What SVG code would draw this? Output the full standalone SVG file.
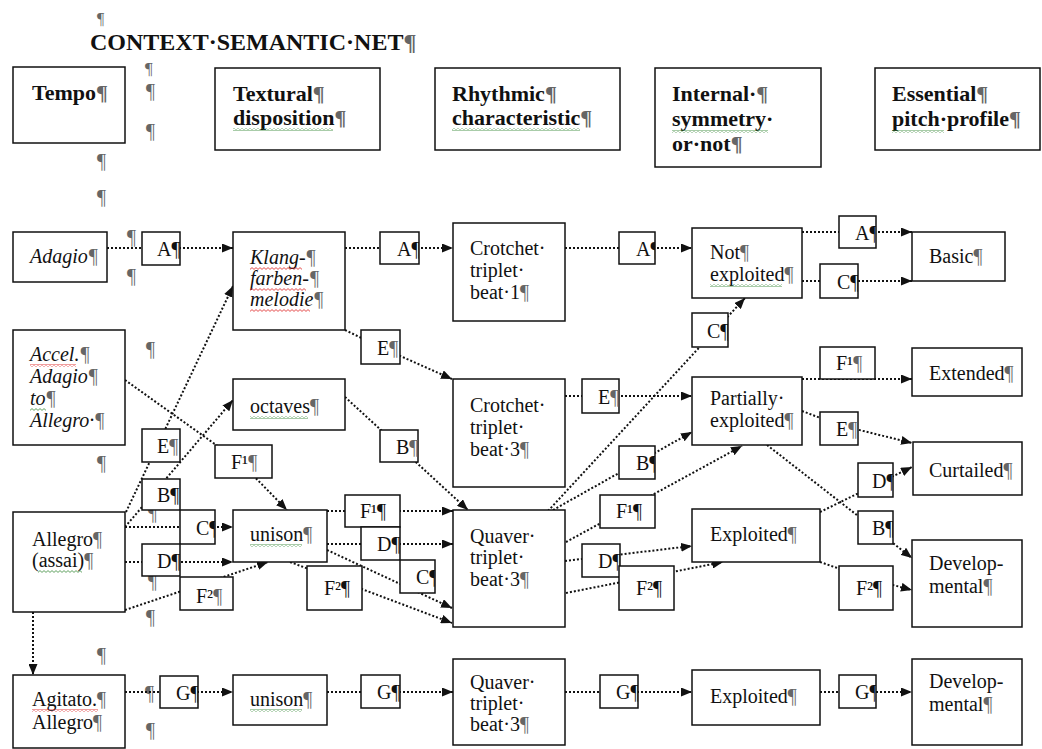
<svg xmlns="http://www.w3.org/2000/svg" width="1042" height="749" viewBox="0 0 1042 749">
<style>
.bg{fill:#fff}
.box{fill:#fff;stroke:#111;stroke-width:1.5}
.t{font-family:"Liberation Serif","Times New Roman",serif;font-size:20px;fill:#111}
.i{font-style:italic}
.h{font-weight:bold;font-size:22px}
.tt{font-family:"Liberation Serif","Times New Roman",serif;font-weight:bold;font-size:24px;fill:#111}
.p{fill:#666}
.c{fill:none;stroke:#111;stroke-width:2;stroke-dasharray:2 2;marker-end:url(#ah)}
.wr{fill:url(#wavyR)}
.wg{fill:url(#wavyG)}
</style>
<defs>
<marker id="ah" markerUnits="userSpaceOnUse" markerWidth="11" markerHeight="9" refX="11" refY="4.5" orient="auto">
<path d="M0,0 L11,4.5 L0,9 z" fill="#111"/>
</marker>
<pattern id="wavyR" width="4" height="3" patternUnits="userSpaceOnUse">
<path d="M0,0.6 L2,2.4 L4,0.6" fill="none" stroke="#d22" stroke-width="0.8"/>
</pattern>
<pattern id="wavyG" width="4" height="3" patternUnits="userSpaceOnUse">
<path d="M0,0.6 L2,2.4 L4,0.6" fill="none" stroke="#3a8a3a" stroke-width="0.8"/>
</pattern>
</defs>
<rect class="bg" x="0" y="0" width="1042" height="749"/>

<g id="title">
<text class="t p" x="97" y="24" style="font-size:16px">¶</text>
<text class="tt" x="90" y="50">CONTEXT·SEMANTIC·NET<tspan class="p">¶</tspan></text>
</g>

<g id="marks" class="t p">
<text x="145" y="74" style="font-size:17px">¶</text>
<text x="146" y="98">¶</text>
<text x="146" y="138">¶</text>
<text x="97" y="168">¶</text>
<text x="97" y="204">¶</text>
<text x="127" y="244">¶</text>
<text x="127" y="283">¶</text>
<text x="146" y="356">¶</text>
<text x="97" y="470">¶</text>
<text x="148" y="520">¶</text>
<text x="148" y="588">¶</text>
<text x="146" y="624">¶</text>
<text x="97" y="662">¶</text>
<text x="145" y="700">¶</text>
<text x="146" y="737">¶</text>
</g>

<g id="connectors">
<path class="c" d="M107,248 H233"/>
<path class="c" d="M345,248 H453"/>
<path class="c" d="M565,248 H692"/>
<path class="c" d="M802,232 H912"/>
<path class="c" d="M802,281 H912"/>
<path class="c" d="M345,330 L380,347 L452,379"/>
<path class="c" d="M565,396 H692"/>
<path class="c" d="M802,379 H912"/>
<path class="c" d="M802,411 L839,425 L912,443"/>
<path class="c" d="M548,511 L745,298"/>
<path class="c" d="M125,380 L240,462 L287,510"/>
<path class="c" d="M126,512 L233,286"/>
<path class="c" d="M125,527 L233,400"/>
<path class="c" d="M125,527 H233"/>
<path class="c" d="M125,562 H233"/>
<path class="c" d="M125,610 L268,562"/>
<path class="c" d="M345,397 L468,510"/>
<path class="c" d="M327,511 H453"/>
<path class="c" d="M327,544 H453"/>
<path class="c" d="M327,550 L452,608"/>
<path class="c" d="M290,562 L452,623"/>
<path class="c" d="M553,510 L692,432"/>
<path class="c" d="M566,542 L742,446"/>
<path class="c" d="M565,561 L692,546"/>
<path class="c" d="M566,593 L723,562"/>
<path class="c" d="M820,512 L912,467"/>
<path class="c" d="M767,445 L912,558"/>
<path class="c" d="M820,562 L866,578 L912,590"/>
<path class="c" d="M33,612 V675"/>
<path class="c" d="M125,692 H233"/>
<path class="c" d="M327,692 H453"/>
<path class="c" d="M565,692 H692"/>
<path class="c" d="M820,692 H912"/>
</g>

<!-- header nodes -->
<g id="n-tempo"><rect class="box" x="13" y="67" width="112" height="76"/>
<text class="t h" x="32" y="100">Tempo<tspan class="p">¶</tspan></text></g>
<g id="n-textural"><rect class="box" x="215" y="68" width="165" height="82"/>
<text class="t h" x="233" y="101">Textural<tspan class="p">¶</tspan></text>
<text class="t h" x="233" y="125">disposition<tspan class="p">¶</tspan></text>
<rect class="wg" x="233" y="128" width="100" height="3"/></g>
<g id="n-rhythmic"><rect class="box" x="435" y="68" width="185" height="82"/>
<text class="t h" x="452" y="101">Rhythmic<tspan class="p">¶</tspan></text>
<text class="t h" x="452" y="125">characteristic<tspan class="p">¶</tspan></text>
<rect class="wg" x="452" y="128" width="128" height="3"/></g>
<g id="n-internal"><rect class="box" x="655" y="68" width="166" height="99"/>
<text class="t h" x="672" y="101">Internal·<tspan class="p">¶</tspan></text>
<text class="t h" x="672" y="126">symmetry·</text>
<text class="t h" x="672" y="151">or·not<tspan class="p">¶</tspan></text>
<rect class="wg" x="672" y="130" width="96" height="3"/></g>
<g id="n-essential"><rect class="box" x="875" y="68" width="165" height="82"/>
<text class="t h" x="892" y="101">Essential<tspan class="p">¶</tspan></text>
<text class="t h" x="892" y="126">pitch·profile<tspan class="p">¶</tspan></text>
<rect class="wg" x="892" y="130" width="52" height="3"/></g>

<!-- tempo column -->
<g id="n-adagio"><rect class="box" x="13" y="232" width="94" height="50"/>
<text class="t i" x="30" y="263">Adagio<tspan class="p">¶</tspan></text></g>
<g id="n-accel"><rect class="box" x="13" y="330" width="112" height="115"/>
<text class="t i" x="30" y="361">Accel.<tspan class="p">¶</tspan></text>
<text class="t i" x="30" y="383">Adagio<tspan class="p">¶</tspan></text>
<text class="t i" x="30" y="405">to<tspan class="p">¶</tspan></text>
<text class="t i" x="30" y="427">Allegro·<tspan class="p">¶</tspan></text>
<rect class="wr" x="30" y="364" width="46" height="3"/>
<rect class="wg" x="30" y="408" width="16" height="3"/></g>
<g id="n-allegro"><rect class="box" x="13" y="512" width="112" height="100"/>
<text class="t" x="32" y="546">Allegro<tspan class="p">¶</tspan></text>
<text class="t" x="32" y="567">(assai)<tspan class="p">¶</tspan></text>
<rect class="wg" x="38" y="570" width="44" height="3"/></g>
<g id="n-agitato"><rect class="box" x="13" y="675" width="112" height="73"/>
<text class="t" x="32" y="706">Agitato.<tspan class="p">¶</tspan></text>
<text class="t" x="32" y="729">Allegro<tspan class="p">¶</tspan></text>
<rect class="wr" x="32" y="709" width="66" height="3"/></g>

<!-- textural column -->
<g id="n-klang"><rect class="box" x="233" y="232" width="112" height="98"/>
<text class="t i" x="250" y="264">Klang-<tspan class="p">¶</tspan></text>
<text class="t i" x="250" y="285">farben-<tspan class="p">¶</tspan></text>
<text class="t i" x="250" y="306">melodie<tspan class="p">¶</tspan></text>
<rect class="wr" x="250" y="267" width="52" height="3"/>
<rect class="wr" x="250" y="288" width="56" height="3"/>
<rect class="wr" x="250" y="309" width="60" height="3"/></g>
<g id="n-octaves"><rect class="box" x="233" y="379" width="112" height="51"/>
<text class="t" x="250" y="413">octaves<tspan class="p">¶</tspan></text>
<rect class="wg" x="250" y="416" width="58" height="3"/></g>
<g id="n-unison1"><rect class="box" x="233" y="510" width="94" height="52"/>
<text class="t" x="250" y="541">unison<tspan class="p">¶</tspan></text>
<rect class="wg" x="250" y="544" width="52" height="3"/></g>
<g id="n-unison2"><rect class="box" x="233" y="675" width="94" height="50"/>
<text class="t" x="250" y="706">unison<tspan class="p">¶</tspan></text>
<rect class="wg" x="250" y="709" width="52" height="3"/></g>

<!-- rhythmic column -->
<g id="n-crotchet1"><rect class="box" x="453" y="223" width="112" height="98"/>
<text class="t" x="470" y="255">Crotchet·</text>
<text class="t" x="470" y="277">triplet·</text>
<text class="t" x="470" y="299">beat·1<tspan class="p">¶</tspan></text></g>
<g id="n-crotchet3"><rect class="box" x="453" y="379" width="112" height="108"/>
<text class="t" x="470" y="412">Crotchet·</text>
<text class="t" x="470" y="434">triplet·</text>
<text class="t" x="470" y="456">beat·3<tspan class="p">¶</tspan></text></g>
<g id="n-quaver1"><rect class="box" x="453" y="510" width="112" height="117"/>
<text class="t" x="470" y="543">Quaver·</text>
<text class="t" x="470" y="564">triplet·</text>
<text class="t" x="470" y="586">beat·3<tspan class="p">¶</tspan></text></g>
<g id="n-quaver2"><rect class="box" x="453" y="659" width="112" height="86"/>
<text class="t" x="470" y="689">Quaver·</text>
<text class="t" x="470" y="710">triplet·</text>
<text class="t" x="470" y="731">beat·3<tspan class="p">¶</tspan></text></g>

<!-- symmetry column -->
<g id="n-notexploited"><rect class="box" x="692" y="228" width="110" height="70"/>
<text class="t" x="710" y="259">Not<tspan class="p">¶</tspan></text>
<text class="t" x="710" y="281">exploited<tspan class="p">¶</tspan></text>
<rect class="wg" x="710" y="284" width="72" height="3"/></g>
<g id="n-partially"><rect class="box" x="692" y="377" width="110" height="68"/>
<text class="t" x="710" y="405">Partially·</text>
<text class="t" x="710" y="427">exploited<tspan class="p">¶</tspan></text></g>
<g id="n-exploited1"><rect class="box" x="692" y="509" width="128" height="53"/>
<text class="t" x="710" y="541">Exploited<tspan class="p">¶</tspan></text></g>
<g id="n-exploited2"><rect class="box" x="692" y="670" width="128" height="55"/>
<text class="t" x="710" y="703">Exploited<tspan class="p">¶</tspan></text></g>

<!-- pitch profile column -->
<g id="n-basic"><rect class="box" x="912" y="232" width="93" height="49"/>
<text class="t" x="929" y="263">Basic<tspan class="p">¶</tspan></text></g>
<g id="n-extended"><rect class="box" x="912" y="348" width="110" height="48"/>
<text class="t" x="929" y="380">Extended<tspan class="p">¶</tspan></text></g>
<g id="n-curtailed"><rect class="box" x="913" y="442" width="109" height="53"/>
<text class="t" x="929" y="477">Curtailed<tspan class="p">¶</tspan></text></g>
<g id="n-developmental1"><rect class="box" x="912" y="540" width="110" height="87"/>
<text class="t" x="929" y="570">Develop-</text>
<text class="t" x="929" y="593">mental<tspan class="p">¶</tspan></text></g>
<g id="n-developmental2"><rect class="box" x="912" y="659" width="110" height="86"/>
<text class="t" x="929" y="688">Develop-</text>
<text class="t" x="929" y="711">mental<tspan class="p">¶</tspan></text></g>

<!-- connector label boxes -->
<g id="l-a1"><rect class="box" x="142" y="232" width="38" height="33"/><svg x="142" y="232" width="38" height="33"><text class="t" x="15" y="24">A¶</text></svg></g>
<g id="l-a2"><rect class="box" x="380" y="232" width="39" height="32"/><svg x="380" y="232" width="39" height="32"><text class="t" x="17" y="24">A¶</text></svg></g>
<g id="l-a3"><rect class="box" x="619" y="232" width="36" height="32"/><svg x="619" y="232" width="36" height="32"><text class="t" x="17" y="24">A¶</text></svg></g>
<g id="l-a4"><rect class="box" x="839" y="216" width="37" height="32"/><svg x="839" y="216" width="37" height="32"><text class="t" x="16" y="24">A¶</text></svg></g>
<g id="l-c1"><rect class="box" x="820" y="264" width="38" height="34"/><svg x="820" y="264" width="38" height="34"><text class="t" x="17" y="25">C¶</text></svg></g>
<g id="l-c2"><rect class="box" x="692" y="313" width="36" height="34"/><svg x="692" y="313" width="36" height="34"><text class="t" x="15" y="25">C¶</text></svg></g>
<g id="l-e1"><rect class="box" x="361" y="330" width="39" height="34"/><svg x="361" y="330" width="39" height="34"><text class="t" x="16" y="25">E<tspan class="p">¶</tspan></text></svg></g>
<g id="l-e2"><rect class="box" x="582" y="379" width="37" height="34"/><svg x="582" y="379" width="37" height="34"><text class="t" x="16" y="25">E<tspan class="p">¶</tspan></text></svg></g>
<g id="l-f1a"><rect class="box" x="820" y="347" width="55" height="32"/><svg x="820" y="347" width="55" height="32"><text class="t" x="16" y="23">F¹<tspan class="p">¶</tspan></text></svg></g>
<g id="l-e3"><rect class="box" x="820" y="412" width="38" height="33"/><svg x="820" y="412" width="38" height="33"><text class="t" x="16" y="24">E<tspan class="p">¶</tspan></text></svg></g>
<g id="l-d1"><rect class="box" x="858" y="463" width="35" height="34"/><svg x="858" y="463" width="35" height="34"><text class="t" x="14" y="25">D¶</text></svg></g>
<g id="l-b1"><rect class="box" x="858" y="511" width="35" height="33"/><svg x="858" y="511" width="35" height="33"><text class="t" x="14" y="24">B¶</text></svg></g>
<g id="l-f2a"><rect class="box" x="839" y="566" width="54" height="44"/><svg x="839" y="566" width="54" height="44"><text class="t" x="17" y="29">F²¶</text></svg></g>
<g id="l-e4"><rect class="box" x="142" y="429" width="38" height="33"/><svg x="142" y="429" width="38" height="33"><text class="t" x="15" y="24">E<tspan class="p">¶</tspan></text></svg></g>
<g id="l-f1b"><rect class="box" x="215" y="445" width="57" height="33"/><svg x="215" y="445" width="57" height="33"><text class="t" x="16" y="24">F¹<tspan class="p">¶</tspan></text></svg></g>
<g id="l-b2"><rect class="box" x="142" y="479" width="38" height="31"/><svg x="142" y="479" width="38" height="31"><text class="t" x="15" y="23">B¶</text></svg></g>
<g id="l-c3"><rect class="box" x="180" y="510" width="35" height="34"/><svg x="180" y="510" width="35" height="34"><text class="t" x="16" y="25">C¶</text></svg></g>
<g id="l-d2"><rect class="box" x="142" y="544" width="38" height="32"/><svg x="142" y="544" width="38" height="32"><text class="t" x="15" y="24">D¶</text></svg></g>
<g id="l-f2b"><rect class="box" x="180" y="577" width="53" height="33"/><svg x="180" y="577" width="53" height="33"><text class="t" x="16" y="26">F²<tspan class="p">¶</tspan></text></svg></g>
<g id="l-b3"><rect class="box" x="380" y="430" width="38" height="32"/><svg x="380" y="430" width="38" height="32"><text class="t" x="16" y="24">B<tspan class="p">¶</tspan></text></svg></g>
<g id="l-f1c"><rect class="box" x="345" y="495" width="55" height="32"/><svg x="345" y="495" width="55" height="32"><text class="t" x="15" y="23">F¹¶</text></svg></g>
<g id="l-d3"><rect class="box" x="361" y="527" width="39" height="33"/><svg x="361" y="527" width="39" height="33"><text class="t" x="16" y="24">D¶</text></svg></g>
<g id="l-c4"><rect class="box" x="400" y="560" width="35" height="33"/><svg x="400" y="560" width="35" height="33"><text class="t" x="16" y="24">C¶</text></svg></g>
<g id="l-f2c"><rect class="box" x="307" y="566" width="55" height="44"/><svg x="307" y="566" width="55" height="44"><text class="t" x="17" y="29">F²¶</text></svg></g>
<g id="l-b4"><rect class="box" x="619" y="446" width="36" height="33"/><svg x="619" y="446" width="36" height="33"><text class="t" x="17" y="24">B¶</text></svg></g>
<g id="l-f1d"><rect class="box" x="600" y="495" width="55" height="33"/><svg x="600" y="495" width="55" height="33"><text class="t" x="16" y="23">F¹¶</text></svg></g>
<g id="l-d4"><rect class="box" x="582" y="544" width="38" height="33"/><svg x="582" y="544" width="38" height="33"><text class="t" x="16" y="24">D¶</text></svg></g>
<g id="l-f2d"><rect class="box" x="619" y="566" width="55" height="44"/><svg x="619" y="566" width="55" height="44"><text class="t" x="17" y="29">F²¶</text></svg></g>
<g id="l-g1"><rect class="box" x="160" y="676" width="38" height="32"/><svg x="160" y="676" width="38" height="32"><text class="t" x="16" y="24">G¶</text></svg></g>
<g id="l-g2"><rect class="box" x="361" y="675" width="39" height="33"/><svg x="361" y="675" width="39" height="33"><text class="t" x="16" y="24">G¶</text></svg></g>
<g id="l-g3"><rect class="box" x="600" y="675" width="38" height="33"/><svg x="600" y="675" width="38" height="33"><text class="t" x="16" y="24">G¶</text></svg></g>
<g id="l-g4"><rect class="box" x="839" y="675" width="37" height="33"/><svg x="839" y="675" width="37" height="33"><text class="t" x="16" y="24">G¶</text></svg></g>
</svg>
